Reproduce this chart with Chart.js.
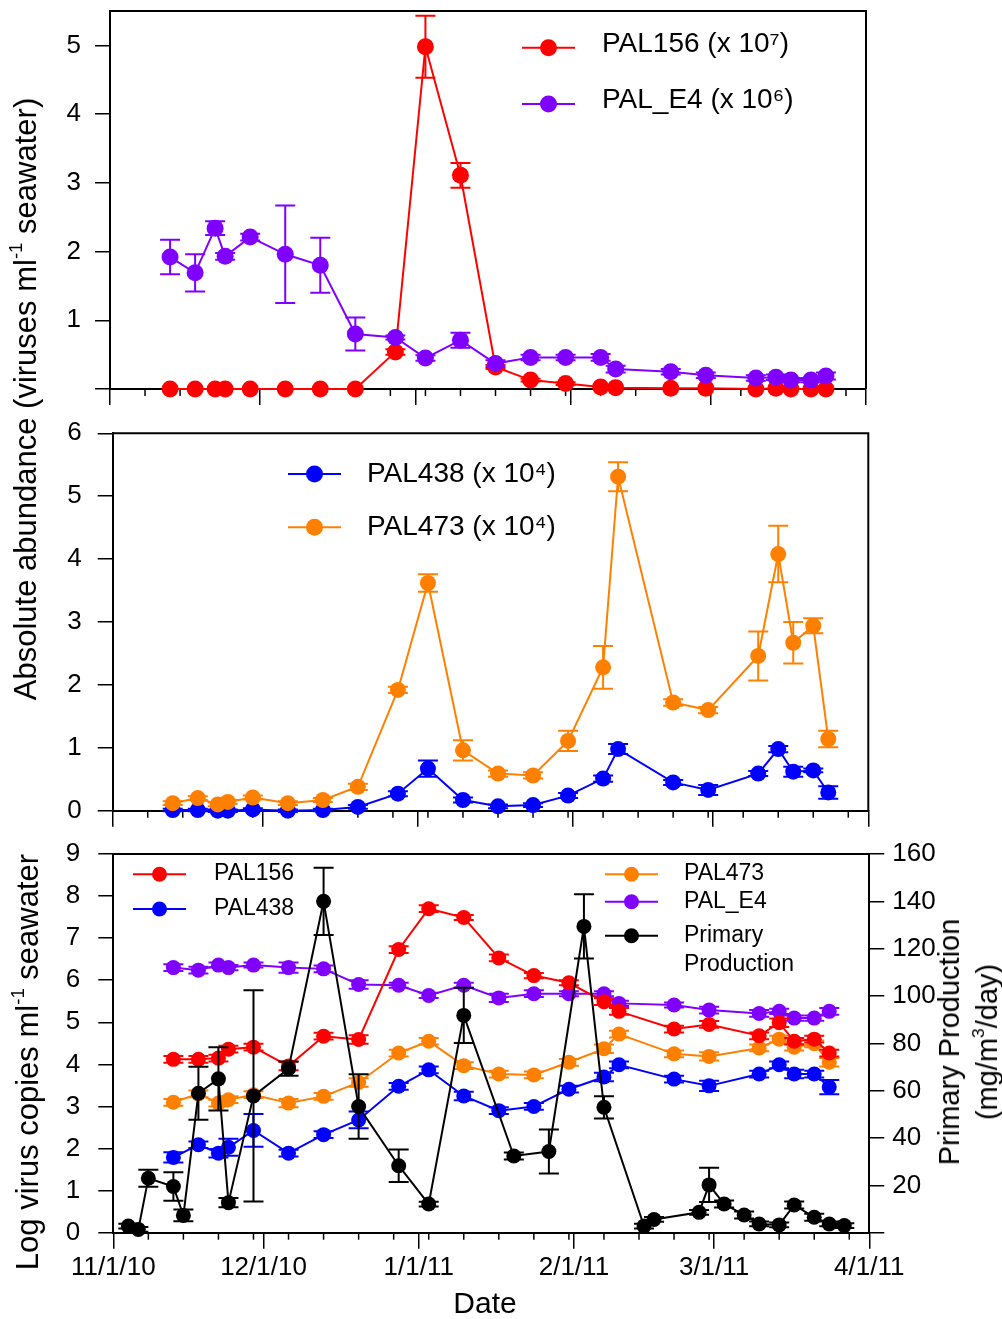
<!DOCTYPE html>
<html>
<head>
<meta charset="utf-8">
<title>Virus abundance and primary production</title>
<script src="https://cdn.jsdelivr.net/npm/chart.js@4.4.1/dist/chart.umd.min.js"></script>
<style>
  html, body { margin: 0; padding: 0; background: #fff; }
  #page { position: relative; width: 1002px; height: 1319px; overflow: hidden;
          font-family: "Liberation Sans", Arial, Helvetica, sans-serif; color: #000; }
  #page canvas { position: absolute; left: 0; }
  .axis-title { position: absolute; white-space: nowrap; line-height: 1; text-align: center; }
  .rot { transform: translate(-50%, -50%) rotate(-90deg); }
  .axis-title sup { font-size: 0.6em; vertical-align: 0.75em; line-height: 0; }
</style>
</head>
<body>
<div id="page">
  <canvas id="topChart" width="1002" height="420" style="top:0"></canvas>
  <canvas id="midChart" width="1002" height="420" style="top:420px"></canvas>
  <canvas id="botChart" width="1002" height="479" style="top:840px"></canvas>
  <div class="axis-title rot" style="left:25px; top:399px; font-size:31px">Absolute abundance (viruses ml<sup>-1</sup> seawater)</div>
  <div class="axis-title rot" style="left:27px; top:1062px; font-size:31px">Log virus copies ml<sup>-1</sup> seawater</div>
  <div class="axis-title rot" style="left:968px; top:1042px; font-size:29px; line-height:38px">Primary Production<br>(mg/m<sup>3</sup>/day)</div>
  <div class="axis-title" style="left:485px; top:1303px; font-size:30px; transform:translate(-50%,-50%)">Date</div>
</div>
<script>
// sampling dates for the virus counts
var sampleDates = ['11/13/10', '11/18/10', '11/22/10', '11/24/10', '11/29/10', '12/6/10', '12/13/10', '12/20/10',
    '12/28/10', '1/3/11', '1/10/11', '1/17/11', '1/24/11', '1/31/11', '2/7/11', '2/10/11', '2/21/11', '2/28/11',
    '3/10/11', '3/14/11', '3/17/11', '3/21/11', '3/24/11'];
// primary production was sampled on its own schedule
var ppDates = ['11/4/10', '11/6/10', '11/8/10', '11/13/10', '11/15/10', '11/18/10', '11/22/10', '11/24/10', '11/29/10',
    '12/6/10', '12/13/10', '12/20/10', '12/28/10', '1/3/11', '1/10/11', '1/20/11', '1/27/11', '2/3/11', '2/7/11',
    '2/15/11', '2/17/11', '2/26/11', '2/28/11', '3/3/11', '3/7/11', '3/10/11', '3/14/11', '3/17/11', '3/21/11',
    '3/24/11', '3/27/11'];
var monthLabels = ['11/1/10', '12/1/10', '1/1/11', '2/1/11', '3/1/11', '4/1/11'];

// top panel (absolute abundance)
var pal156Abs = [0, 0, 0, 0, 0, 0, 0, 0, 0.54, 4.98, 3.11, 0.32, 0.13, 0.08, 0.03, 0.02, 0.01, 0.01, 0, 0.01, 0, 0, 0];
var pal156AbsErr = [0, 0, 0, 0, 0, 0, 0, 0, 0.04, 0.45, 0.18, 0.03, 0.02, 0.02, 0, 0, 0, 0, 0, 0, 0, 0, 0];
var palE4Abs = [1.92, 1.69, 2.34, 1.93, 2.21, 1.96, 1.80, 0.80, 0.75, 0.45, 0.71, 0.37, 0.46, 0.46, 0.46, 0.29, 0.25, 0.20, 0.16, 0.17, 0.13, 0.13, 0.19];
var palE4AbsErr = [0.25, 0.27, 0.10, 0.05, 0.05, 0.71, 0.40, 0.24, 0.03, 0.04, 0.11, 0.05, 0.04, 0.04, 0.05, 0.05, 0.04, 0.04, 0.04, 0.04, 0.03, 0.03, 0.05];

// middle panel
var pal438Abs = [0.01, 0.01, 0, 0, 0.02, 0, 0.01, 0.06, 0.27, 0.67, 0.17, 0.07, 0.09, 0.24, 0.51, 0.98, 0.45, 0.33, 0.59, 0.98, 0.62, 0.64, 0.29];
var pal438AbsErr = [0.02, 0.02, 0.02, 0.02, 0.02, 0.02, 0.02, 0.03, 0.04, 0.13, 0.04, 0.03, 0.03, 0.04, 0.05, 0.08, 0.04, 0.08, 0.04, 0.05, 0.08, 0.03, 0.10];
var pal473Abs = [0.12, 0.20, 0.10, 0.14, 0.21, 0.12, 0.17, 0.38, 1.92, 3.62, 0.96, 0.59, 0.56, 1.11, 2.28, 5.31, 1.72, 1.60, 2.46, 4.08, 2.67, 2.94, 1.14];
var pal473AbsErr = [0.03, 0.03, 0.03, 0.03, 0.03, 0.03, 0.03, 0.05, 0.05, 0.14, 0.16, 0.05, 0.05, 0.16, 0.34, 0.23, 0.05, 0.05, 0.39, 0.45, 0.33, 0.12, 0.13];

// bottom panel (log copies)
var pal156Log = [4.12, 4.12, 4.15, 4.36, 4.41, 3.96, 4.67, 4.59, 6.73, 7.70, 7.49, 6.53, 6.11, 5.94, 5.49, 5.26, 4.84, 4.95, 4.68, 4.99, 4.55, 4.60, 4.27];
var pal156LogErr = [0.08, 0.08, 0.08, 0.08, 0.08, 0.10, 0.08, 0.10, 0.08, 0.08, 0.06, 0.08, 0.06, 0.06, 0.08, 0.08, 0.08, 0.08, 0.08, 0.10, 0.08, 0.08, 0.08];
var pal438Log = [1.79, 2.09, 1.89, 2.03, 2.43, 1.89, 2.33, 2.68, 3.48, 3.87, 3.25, 2.90, 3.00, 3.41, 3.70, 3.99, 3.65, 3.49, 3.77, 3.99, 3.77, 3.77, 3.46];
var pal438LogErr = [0.12, 0.08, 0.10, 0.20, 0.39, 0.08, 0.08, 0.20, 0.08, 0.08, 0.10, 0.08, 0.08, 0.08, 0.10, 0.08, 0.08, 0.12, 0.08, 0.08, 0.10, 0.08, 0.17];
var pal473Log = [3.10, 3.30, 3.08, 3.16, 3.28, 3.08, 3.24, 3.57, 4.27, 4.55, 3.97, 3.77, 3.75, 4.05, 4.37, 4.72, 4.25, 4.19, 4.39, 4.60, 4.41, 4.49, 4.05];
var pal473LogErr = [0.08, 0.08, 0.08, 0.08, 0.08, 0.10, 0.08, 0.10, 0.08, 0.08, 0.08, 0.08, 0.08, 0.08, 0.10, 0.08, 0.08, 0.10, 0.08, 0.08, 0.08, 0.08, 0.10];
var palE4Log = [6.30, 6.24, 6.36, 6.30, 6.36, 6.30, 6.27, 5.90, 5.88, 5.64, 5.88, 5.58, 5.68, 5.68, 5.68, 5.45, 5.41, 5.29, 5.21, 5.26, 5.10, 5.10, 5.26];
var palE4LogErr = [0.08, 0.08, 0.06, 0.06, 0.06, 0.12, 0.08, 0.10, 0.06, 0.06, 0.06, 0.10, 0.08, 0.06, 0.06, 0.06, 0.06, 0.08, 0.08, 0.06, 0.06, 0.06, 0.08];
var primaryProd = [2.8, 1.4, 23.0, 19.5, 7.3, 58.9, 65.0, 12.7, 57.8, 69.3, 140, 53.3, 28.3, 12.1, 91.8, 32.4, 34.3,
    129.4, 53.0, 2.8, 5.6, 8.6, 20.2, 12.1, 7.5, 3.7, 3.3, 11.7, 6.5, 3.7, 3.0];
var primaryProdErr = [1, 1, 3.6, 6, 2.5, 11.2, 13.4, 2, 44.6, 3, 14.2, 13.6, 6.9, 1, 11.7, 1.5, 9.3, 13.6, 4.7, 1, 1, 1,
    7.2, 1.5, 1.5, 1, 1, 1.5, 1.5, 1, 1];

var RED = '#ff0000', PURPLE = '#8000ff', BLUE = '#0000ff', ORANGE = '#ff8000', BLACK = '#000000';
var FONT = "'Liberation Sans', Arial, Helvetica, sans-serif";
Chart.defaults.font.family = FONT;
Chart.defaults.color = '#000';

// days since 11/1/10
function dayOf(s) {
    var p = s.split('/');
    return (Date.UTC(2000 + Number(p[2]), Number(p[0]) - 1, Number(p[1])) - Date.UTC(2010, 10, 1)) / 86400000;
}
var monthDays = monthLabels.map(dayOf);

function pts(dates, vals) {
    return dates.map(function (d, i) { return { x: dayOf(d), y: vals[i] }; });
}

function series(label, color, dates, vals, err, radius, order) {
    return {
        label: label, data: pts(dates, vals), err: err, order: order,
        borderColor: color, backgroundColor: color, borderWidth: 2,
        pointRadius: radius, pointHoverRadius: radius, pointBorderWidth: 0,
        pointBackgroundColor: color, tension: 0, clip: false
    };
}

// error bars, drawn right after each dataset
var errorBars = {
    id: 'errorBars',
    afterDatasetDraw: function (chart, args) {
        var ds = chart.data.datasets[args.index];
        if (!ds.err) return;
        var yScale = chart.scales[args.meta.yAxisID];
        var ctx = chart.ctx;
        ctx.save();
        ctx.strokeStyle = ds.borderColor;
        ctx.lineWidth = 2;
        args.meta.data.forEach(function (pt, i) {
            var e = ds.err[i];
            if (!e) return;
            var v = ds.data[i].y;
            var yt = yScale.getPixelForValue(v + e), yb = yScale.getPixelForValue(v - e);
            ctx.beginPath();
            ctx.moveTo(pt.x, yt); ctx.lineTo(pt.x, yb);
            ctx.moveTo(pt.x - 10, yt); ctx.lineTo(pt.x + 10, yt);
            ctx.moveTo(pt.x - 10, yb); ctx.lineTo(pt.x + 10, yb);
            ctx.stroke();
        });
        ctx.restore();
    }
};

// box round the plot plus the short weekly ticks
var frame = {
    id: 'frame',
    beforeDatasetsDraw: function (chart, args, opts) {
        var a = chart.chartArea, ctx = chart.ctx, xs = chart.scales.x;
        ctx.save();
        ctx.strokeStyle = '#000';
        ctx.lineWidth = 2;
        ctx.beginPath();
        ctx.moveTo(a.left, a.top); ctx.lineTo(a.right, a.top);
        if (opts.full) { ctx.lineTo(a.right, a.bottom); }
        ctx.stroke();
        ctx.lineWidth = 1.5;
        for (var d = 7; d < 151; d += 7) {
            var px = xs.getPixelForValue(d);
            ctx.beginPath();
            ctx.moveTo(px, a.bottom); ctx.lineTo(px, a.bottom + 7);
            ctx.stroke();
        }
        ctx.restore();
    }
};

// line + dot legend placed inside the plot
var seriesKey = {
    id: 'seriesKey',
    afterDraw: function (chart, args, opts) {
        var ctx = chart.ctx;
        ctx.save();
        opts.items.forEach(function (it) {
            var ds = chart.data.datasets[it.index];
            ctx.strokeStyle = ds.borderColor;
            ctx.lineWidth = 2;
            ctx.beginPath();
            ctx.moveTo(it.x, it.y); ctx.lineTo(it.x + opts.lineLen, it.y);
            ctx.stroke();
            ctx.fillStyle = ds.borderColor;
            ctx.beginPath();
            ctx.arc(it.x + opts.lineLen / 2, it.y, opts.radius, 0, 2 * Math.PI);
            ctx.fill();
            ctx.fillStyle = '#000';
            ctx.font = opts.size + 'px ' + FONT;
            ctx.textBaseline = 'alphabetic';
            var lines = it.wrap ? ds.label.split(' ') : [ds.label];
            lines.forEach(function (line, k) {
                ctx.fillText(line, it.textX, it.y + opts.dy + k * opts.lineGap);
            });
        });
        ctx.restore();
    }
};

function xAxis(height, showLabels) {
    return {
        type: 'linear', min: 0, max: 151,
        afterBuildTicks: function (s) { s.ticks = monthDays.map(function (v) { return { value: v }; }); },
        afterFit: function (s) { s.height = height; s.paddingLeft = 0; s.paddingRight = 0; },
        ticks: {
            display: showLabels, autoSkip: false, maxRotation: 0, padding: 4,
            color: '#000', font: { size: 26 },
            callback: function (v) { return monthLabels[monthDays.indexOf(v)]; }
        },
        grid: { drawOnChartArea: false, tickLength: 16, color: '#000', lineWidth: 1.5 },
        border: { display: true, color: '#000', width: 2 }
    };
}

function yAxis(position, width, min, max, tickVals, pad, hideZero) {
    return {
        type: 'linear', position: position, min: min, max: max,
        afterBuildTicks: function (s) { s.ticks = tickVals.map(function (v) { return { value: v }; }); },
        afterFit: function (s) { s.width = width; s.paddingTop = 0; s.paddingBottom = 0; },
        ticks: {
            padding: pad, color: '#000', font: { size: 26 },
            callback: function (v) { return (hideZero && v === 0) ? '' : String(v); }
        },
        grid: { drawOnChartArea: false, tickLength: 15, color: '#000', lineWidth: 1.5 },
        border: { display: true, color: '#000', width: 2 }
    };
}

var basePlugins = {
    legend: { display: false },
    tooltip: { enabled: false }
};

new Chart(document.getElementById('topChart'), {
    type: 'line',
    data: {
        datasets: [
            series('PAL156 (x 10\u2077)', RED, sampleDates, pal156Abs, pal156AbsErr, 8.5, 1),
            series('PAL_E4 (x 10\u2076)', PURPLE, sampleDates, palE4Abs, palE4AbsErr, 8.5, 0)
        ]
    },
    options: {
        responsive: false, animation: false,
        layout: { padding: { top: 11, right: 136, left: 0, bottom: 0 } },
        scales: {
            x: xAxis(31, false),
            y: yAxis('left', 110, 0, 5.5, [0, 1, 2, 3, 4, 5], 14, true)
        },
        plugins: Object.assign({}, basePlugins, {
            frame: { full: true },
            seriesKey: {
                lineLen: 53, radius: 8.5, size: 28, dy: 4, lineGap: 0,
                items: [
                    { index: 0, x: 522, y: 47.7, textX: 602 },
                    { index: 1, x: 522, y: 104, textX: 602 }
                ]
            }
        })
    },
    plugins: [frame, errorBars, seriesKey]
});

new Chart(document.getElementById('midChart'), {
    type: 'line',
    data: {
        datasets: [
            series('PAL438 (x 10\u2074)', BLUE, sampleDates, pal438Abs, pal438AbsErr, 8, 1),
            series('PAL473 (x 10\u2074)', ORANGE, sampleDates, pal473Abs, pal473AbsErr, 8, 0)
        ]
    },
    options: {
        responsive: false, animation: false,
        layout: { padding: { top: 13.3, right: 133.7, left: 0, bottom: 0 } },
        scales: {
            x: xAxis(29.3, false),
            y: yAxis('left', 112.7, 0, 6, [0, 1, 2, 3, 4, 5, 6], 16, false)
        },
        plugins: Object.assign({}, basePlugins, {
            frame: { full: true },
            seriesKey: {
                lineLen: 53, radius: 8.5, size: 28, dy: 8, lineGap: 0,
                items: [
                    { index: 0, x: 288, y: 54, textX: 367 },
                    { index: 1, x: 288, y: 107.3, textX: 367 }
                ]
            }
        })
    },
    plugins: [frame, errorBars, seriesKey]
});

var ppSet = series('Primary Production', BLACK, ppDates, primaryProd, primaryProdErr, 7.5, 0);
ppSet.yAxisID = 'y2';

new Chart(document.getElementById('botChart'), {
    type: 'line',
    data: {
        datasets: [
            series('PAL156', RED, sampleDates, pal156Log, pal156LogErr, 7.5, 1),
            series('PAL438', BLUE, sampleDates, pal438Log, pal438LogErr, 7.5, 2),
            series('PAL473', ORANGE, sampleDates, pal473Log, pal473LogErr, 7.5, 3),
            series('PAL_E4', PURPLE, sampleDates, palE4Log, palE4LogErr, 7.5, 4),
            ppSet
        ]
    },
    options: {
        responsive: false, animation: false,
        layout: { padding: { top: 14, right: 0, left: 0, bottom: 0 } },
        scales: {
            x: xAxis(86.3, true),
            y: yAxis('left', 113.3, 0, 9, [0, 1, 2, 3, 4, 5, 6, 7, 8, 9], 18, false),
            y2: yAxis('right', 132.7, 0, 160, [0, 20, 40, 60, 80, 100, 120, 140, 160], 8, true)
        },
        plugins: Object.assign({}, basePlugins, {
            frame: { full: false },
            seriesKey: {
                lineLen: 53, radius: 7.5, size: 23, dy: 6, lineGap: 29,
                items: [
                    { index: 0, x: 133, y: 34.3, textX: 214 },
                    { index: 1, x: 133, y: 69, textX: 214 },
                    { index: 2, x: 605, y: 34.3, textX: 684 },
                    { index: 3, x: 605, y: 61.7, textX: 684 },
                    { index: 4, x: 605, y: 95.7, textX: 684, wrap: true }
                ]
            }
        })
    },
    plugins: [frame, errorBars, seriesKey]
});
</script>
</body>
</html>
